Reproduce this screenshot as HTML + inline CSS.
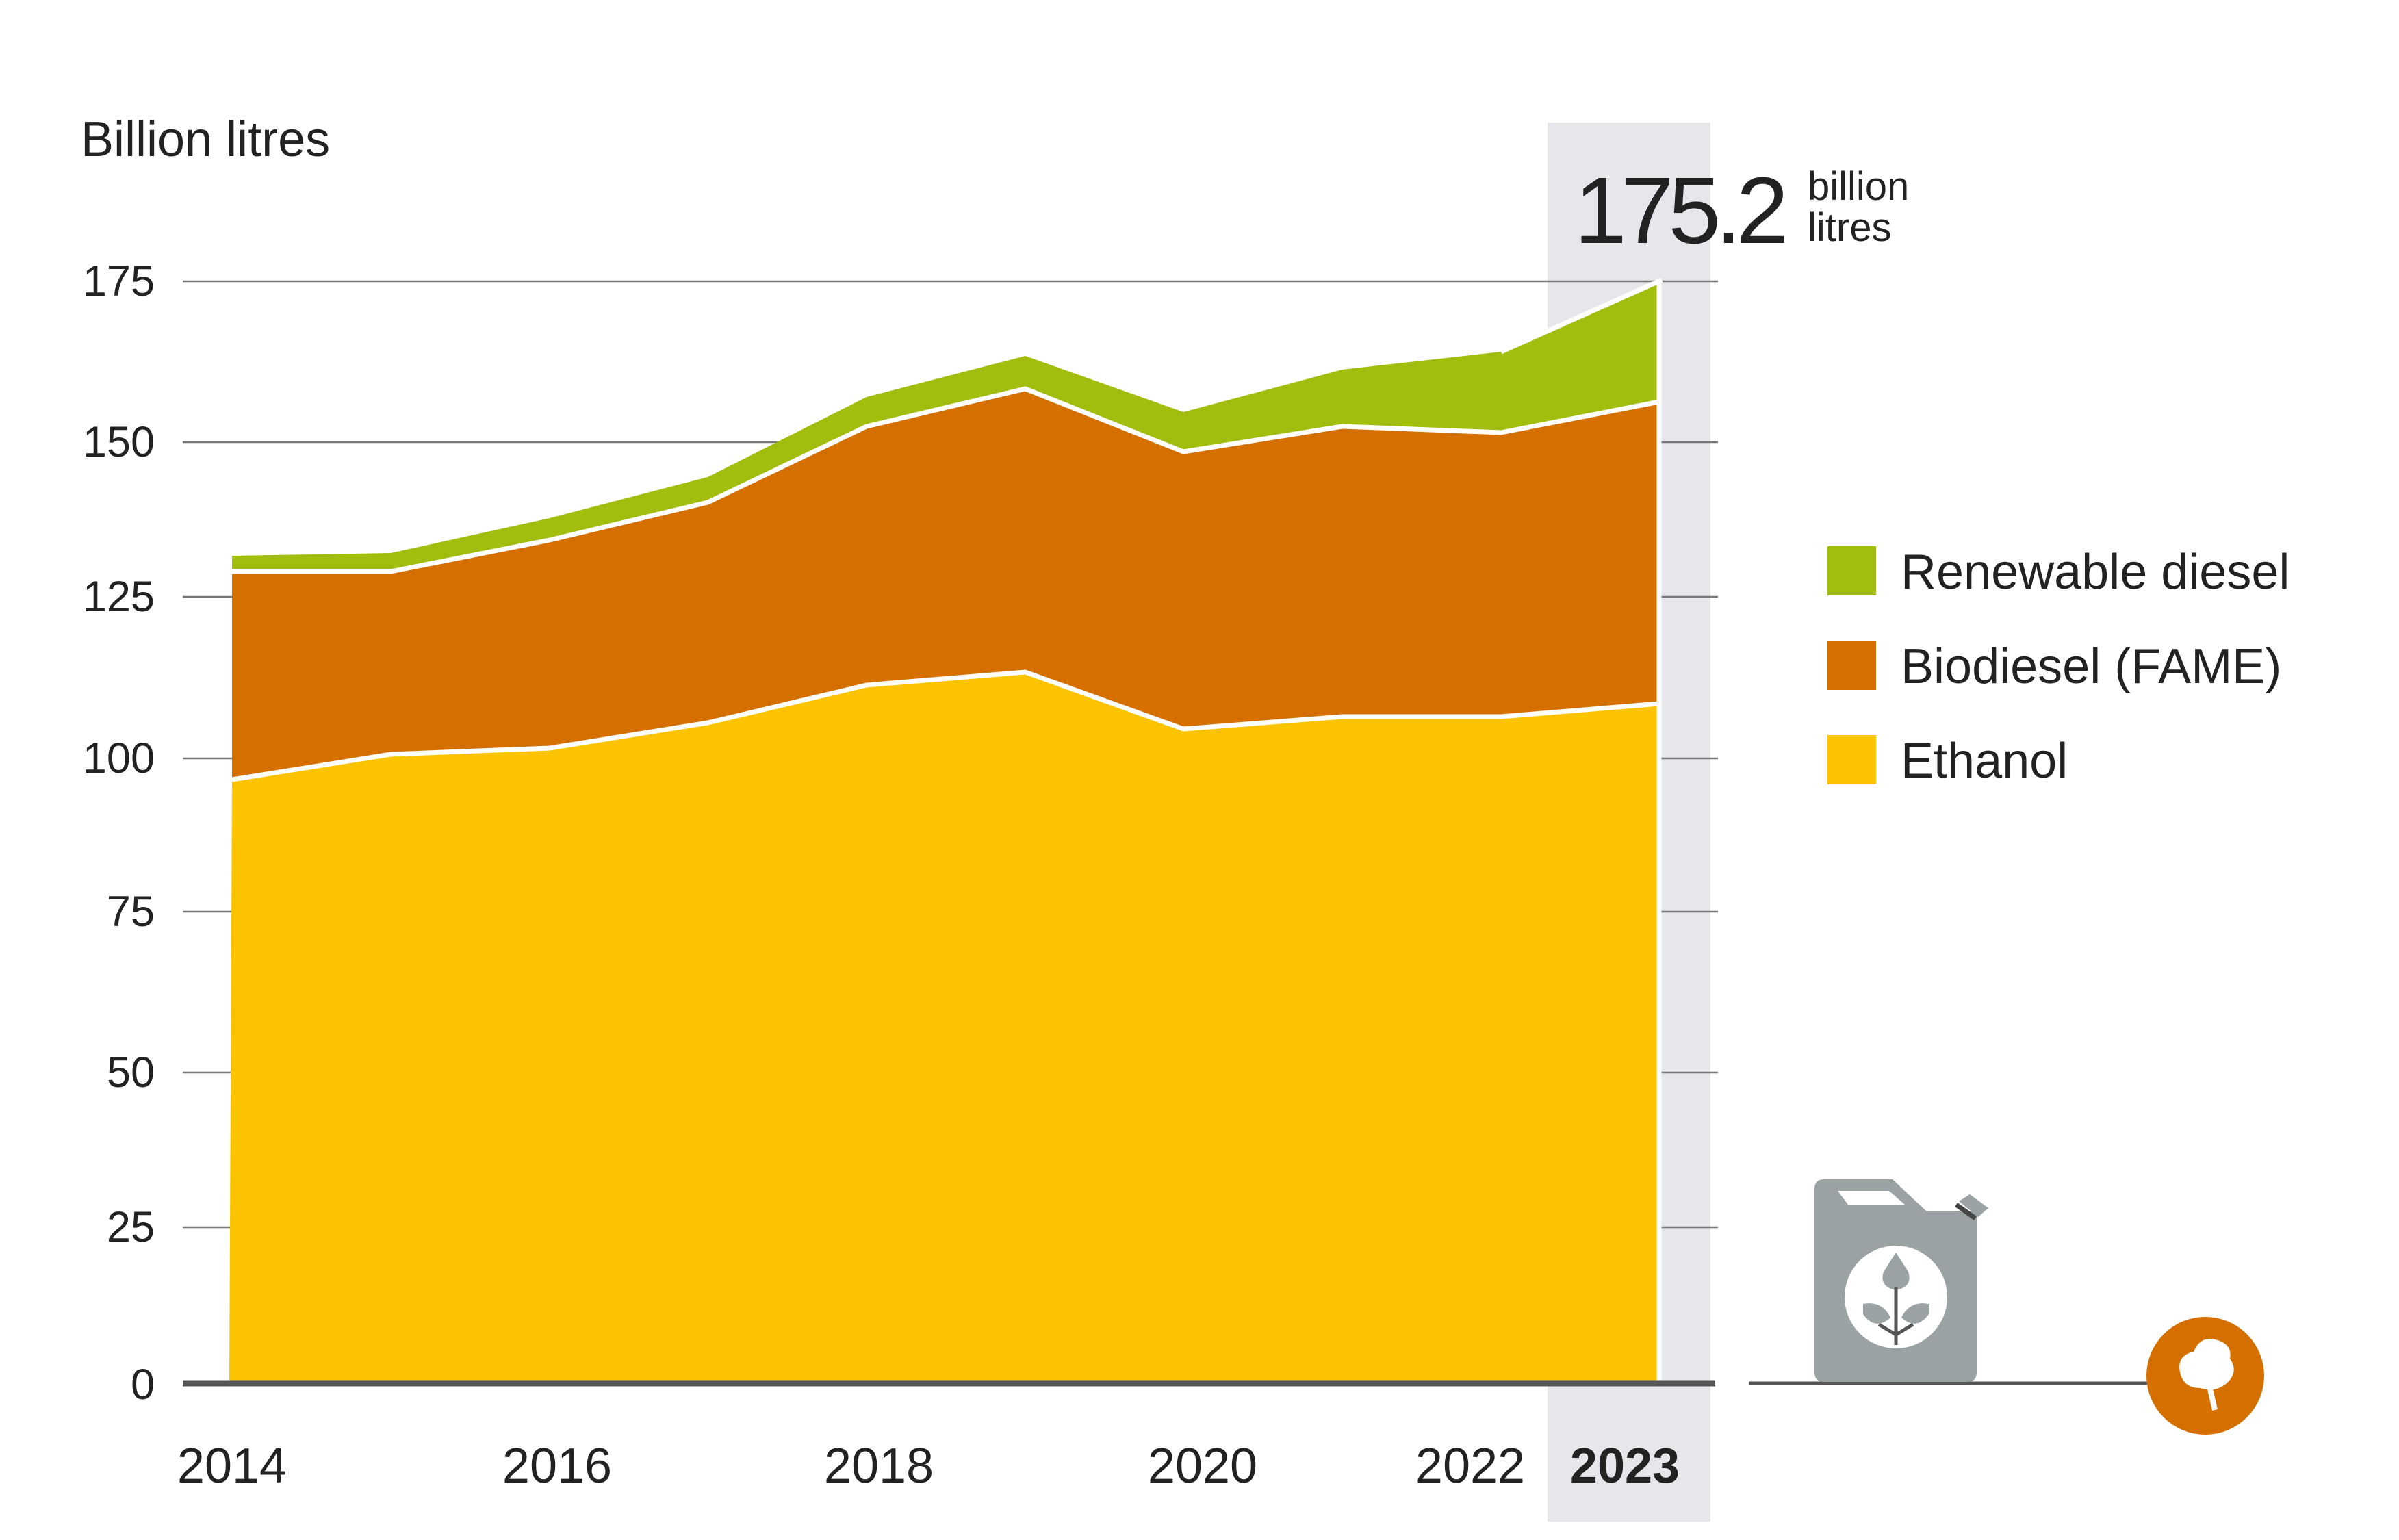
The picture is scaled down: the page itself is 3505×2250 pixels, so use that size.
<!DOCTYPE html>
<html><head><meta charset="utf-8"><style>
html,body{margin:0;padding:0;background:#fff}
svg{display:block}
text{font-family:"Liberation Sans",sans-serif;fill:#222}
</style></head><body>
<svg width="3505" height="2250" viewBox="0 0 3505 2250" xmlns="http://www.w3.org/2000/svg">
<rect x="2261" y="179" width="238" height="2044" fill="#e5e7ea"/>
<g stroke="#777" stroke-width="2.5">
<line x1="267" y1="411" x2="2510" y2="411"/>
<line x1="267" y1="646" x2="2510" y2="646"/>
<line x1="267" y1="872" x2="2510" y2="872"/>
<line x1="267" y1="1108" x2="2510" y2="1108"/>
<line x1="267" y1="1332" x2="2510" y2="1332"/>
<line x1="267" y1="1567" x2="2510" y2="1567"/>
<line x1="267" y1="1793" x2="2510" y2="1793"/>
</g>
<path fill="#a3bd0e" d="M339,812 L571,808 L803,757 L1034,697 L1266,580 L1498,520 L1729,602 L1961,540 L2193,514 L2424,411 L2424,587 L2193,632 L1961,623 L1729,660 L1498,568 L1266,623 L1034,734 L803,789 L571,835 L339,835 Z"/>
<path fill="#d46f00" d="M339,835 L571,835 L803,789 L1034,734 L1266,623 L1498,568 L1729,660 L1961,623 L2193,632 L2424,587 L2424,1028 L2193,1047 L1961,1047 L1729,1065 L1498,982 L1266,1001 L1034,1056 L803,1093 L571,1102 L339,1139 Z"/>
<path fill="#fbc300" d="M339,1139 L571,1102 L803,1093 L1034,1056 L1266,1001 L1498,982 L1729,1065 L1961,1047 L2193,1047 L2424,1028 L2424,2021 L335,2021 Z"/>
<g stroke="#fff" stroke-width="7" stroke-linejoin="round" fill="none">
<polyline points="339,835 571,835 803,789 1034,734 1266,623 1498,568 1729,660 1961,623 2193,632 2424,587"/>
<polyline points="339,1139 571,1102 803,1093 1034,1056 1266,1001 1498,982 1729,1065 1961,1047 2193,1047 2424,1028"/>
<line x1="2424" y1="408" x2="2424" y2="2021"/>
<line x1="2193" y1="514" x2="2428" y2="409"/>
</g>
<line x1="267" y1="2021" x2="2506" y2="2021" stroke="#555" stroke-width="9"/>
<line x1="2555" y1="2021" x2="3150" y2="2021" stroke="#555" stroke-width="5"/>
<g font-size="63" text-anchor="end">
<text x="226" y="432">175</text><text x="226" y="667">150</text><text x="226" y="893">125</text>
<text x="226" y="1129">100</text><text x="226" y="1353">75</text><text x="226" y="1588">50</text>
<text x="226" y="1814">25</text><text x="226" y="2044">0</text>
</g>
<text x="118" y="228" font-size="72">Billion litres</text>
<g font-size="72" text-anchor="middle">
<text x="339" y="2166">2014</text><text x="814" y="2166">2016</text><text x="1284" y="2166">2018</text>
<text x="1757" y="2166">2020</text><text x="2148" y="2166">2022</text>
<text x="2374" y="2166" font-weight="bold">2023</text>
</g>
<text x="2300" y="355" font-size="138" letter-spacing="-8">175.2</text>
<text x="2641" y="292" font-size="58">billion</text>
<text x="2641" y="352" font-size="58">litres</text>
<rect x="2670" y="798" width="71" height="72" fill="#a3bd0e"/>
<rect x="2670" y="936" width="71" height="72" fill="#d46f00"/>
<rect x="2670" y="1074" width="71" height="72" fill="#fbc300"/>
<g font-size="72">
<text x="2777" y="860">Renewable diesel</text>
<text x="2777" y="998">Biodiesel (FAME)</text>
<text x="2777" y="1136">Ethanol</text>
</g>
<g>
<path d="M2665,1723 L2765,1723 L2815,1770 L2888,1770 L2888,2005 Q2888,2019 2874,2019 L2665,2019 Q2651,2019 2651,2005 L2651,1737 Q2651,1723 2665,1723 Z" fill="#9aa2a3"/>
<path d="M2685,1740 L2760,1740 L2783,1760 L2700,1760 Z" fill="#fff"/>
<path d="M2862,1755 L2878,1745 L2905,1765 L2890,1778 Z" fill="#9aa2a3"/>
<line x1="2858" y1="1760" x2="2886" y2="1780" stroke="#444" stroke-width="7"/>
<circle cx="2770" cy="1895" r="75" fill="#fff"/>
<path d="M2770,1830 L2752,1858 Q2745,1880 2770,1885 Q2795,1880 2788,1858 Z" fill="#9aa2a3"/>
<path d="M2770,1880 L2770,1965 M2770,1950 L2745,1935 M2770,1950 L2795,1935" stroke="#555" stroke-width="5" fill="none"/>
<path d="M2722,1905 Q2750,1900 2762,1925 Q2740,1945 2722,1920 Z M2818,1905 Q2790,1900 2778,1925 Q2800,1945 2818,1920 Z" fill="#9aa2a3"/>
</g>
<circle cx="3222" cy="2010" r="86" fill="#d46f00"/>
<path d="M3185,2005 Q3180,1980 3205,1975 Q3215,1950 3240,1958 Q3262,1965 3258,1985 Q3272,2005 3252,2022 Q3235,2035 3215,2028 Q3190,2028 3185,2005 Z" fill="#fff"/>
<line x1="3228" y1="2025" x2="3236" y2="2060" stroke="#fff" stroke-width="8"/>
</svg>
</body></html>
